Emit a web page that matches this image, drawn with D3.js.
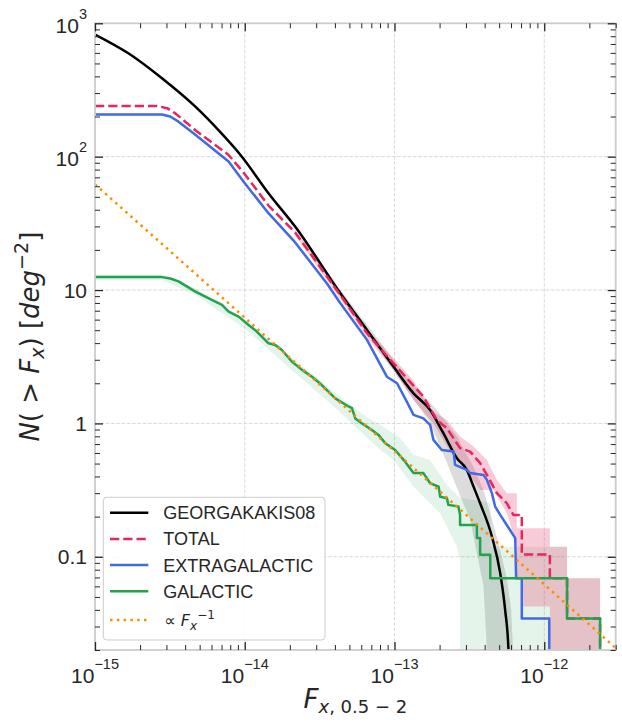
<!DOCTYPE html>
<html>
<head>
<meta charset="utf-8">
<script src="https://cdn.jsdelivr.net/npm/d3@7"></script>
<style>
  html, body { margin: 0; padding: 0; background: #fff; }
  svg { display: block; }
  text { white-space: pre; }
</style>
</head>
<body>
<div id="chart"></div>
<script>
// ---- data (flux in erg/s/cm2, counts in deg^-2) ----
var geoF = [1.00e-15, 1.67e-15, 2.80e-15, 4.68e-15, 6.68e-15, 9.57e-15, 1.44e-14, 2.17e-14, 4.35e-14, 6.55e-14, 9.84e-14, 1.34e-13, 1.73e-13, 2.12e-13, 2.61e-13, 3.04e-13, 3.37e-13, 3.73e-13, 4.47e-13, 5.08e-13, 5.48e-13, 5.77e-13, 5.85e-13];
var geoN = [824, 596, 387, 237, 158, 100, 53.2, 29.9, 9.46, 5.02, 2.67, 1.68, 1.26, 0.845, 0.548, 0.448, 0.336, 0.252, 0.142, 0.0754, 0.040, 0.020, 0.012];

var totF = [1.00e-15, 2.59e-15, 3.03e-15, 3.44e-15, 4.01e-15, 4.68e-15, 7.80e-15, 9.89e-15, 1.44e-14, 2.17e-14, 4.35e-14, 6.55e-14, 9.84e-14, 1.56e-13, 1.92e-13, 2.24e-13, 2.74e-13, 3.20e-13, 3.73e-13, 4.14e-13, 4.83e-13, 5.62e-13, 6.22e-13, 7.08e-13, 7.08e-13, 1.09e-12, 1.09e-12, 1.42e-12, 1.42e-12, 2.36e-12, 2.36e-12];
var totN = [240, 240, 231, 211, 183, 158, 103, 75.2, 43.0, 27.0, 9.18, 4.74, 2.82, 1.59, 1.06, 0.92, 0.652, 0.615, 0.504, 0.411, 0.30, 0.252, 0.206, 0.206, 0.104, 0.104, 0.069, 0.069, 0.0345, 0.0345, 0.01];

var extF = [1.00e-15, 2.80e-15, 3.18e-15, 3.61e-15, 4.68e-15, 7.80e-15, 9.89e-15, 1.44e-14, 2.12e-14, 3.54e-14, 4.35e-14, 6.55e-14, 8.89e-14, 1.04e-13, 1.21e-13, 1.34e-13, 1.56e-13, 1.73e-13, 1.82e-13, 2.07e-13, 2.48e-13, 2.54e-13, 3.04e-13, 3.20e-13, 3.93e-13, 4.14e-13, 4.47e-13, 4.70e-13, 5.08e-13, 5.62e-13, 6.40e-13, 6.49e-13, 7.08e-13, 7.08e-13, 1.08e-12, 1.08e-12];
var extN = [207, 207, 200, 183, 146, 91.9, 64.3, 37.7, 23.5, 11.2, 7.96, 4.23, 2.24, 2.0, 1.45, 1.16, 1.09, 0.975, 0.752, 0.632, 0.615, 0.489, 0.448, 0.424, 0.411, 0.377, 0.30, 0.238, 0.206, 0.173, 0.138, 0.069, 0.069, 0.0345, 0.0345, 0.01];

var galF = [1e-15, 2.8e-15, 3.18e-15, 3.61e-15, 4.68e-15, 5.45e-15, 7.05e-15, 7.80e-15, 9.10e-15, 1.06e-14, 1.17e-14, 1.30e-14, 1.44e-14, 1.60e-14, 1.77e-14, 2.06e-14, 2.41e-14, 2.81e-14, 3.27e-14, 3.62e-14, 4.02e-14, 4.93e-14, 5.20e-14, 5.47e-14, 6.06e-14, 7.06e-14, 7.81e-14, 8.67e-14, 1.01e-13, 1.15e-13, 1.34e-13, 1.56e-13, 1.73e-13, 1.97e-13, 2.02e-13, 2.24e-13, 2.29e-13, 2.67e-13, 2.74e-13, 2.74e-13, 3.55e-13, 3.55e-13, 3.73e-13, 3.73e-13, 4.36e-13, 4.36e-13, 1.42e-12, 1.42e-12, 2.36e-12, 2.36e-12];
var galN = [12.5, 12.5, 12.2, 11.6, 9.72, 8.91, 7.73, 6.89, 6.32, 5.47, 5.02, 4.48, 3.99, 3.87, 3.55, 2.91, 2.52, 2.24, 1.94, 1.73, 1.54, 1.34, 1.30, 1.09, 1.0, 0.893, 0.820, 0.711, 0.632, 0.533, 0.424, 0.424, 0.356, 0.336, 0.282, 0.275, 0.245, 0.238, 0.206, 0.173, 0.173, 0.138, 0.138, 0.1035, 0.1035, 0.069, 0.069, 0.0345, 0.0345, 0.01];

var slopeF = [1e-15, 3e-12];
var slopeN = [62, 0.0207];

// uncertainty bands: upper and lower edges
var geoHiF = [2.17e-14, 4.35e-14, 8.04e-14, 1.27e-13, 1.92e-13, 2.61e-13, 3.37e-13, 3.93e-13, 4.36e-13, 5.08e-13, 5.65e-13, 6.01e-13, 6.19e-13, 6.25e-13];
var geoHiN = [30.8, 10.0, 4.08, 2.05, 1.26, 0.796, 0.474, 0.317, 0.212, 0.113, 0.067, 0.040, 0.020, 0.012];
var geoLoF = [2.17e-14, 4.35e-14, 8.04e-14, 1.27e-13, 1.73e-13, 2.24e-13, 2.76e-13, 3.20e-13, 3.55e-13, 3.93e-13, 4.14e-13, 4.14e-13];
var geoLoN = [29.0, 8.87, 3.44, 1.64, 1.01, 0.504, 0.282, 0.190, 0.106, 0.060, 0.020, 0.012];

var totHiF = [2.17e-14, 4.35e-14, 6.55e-14, 9.84e-14, 1.34e-13, 1.73e-13, 2.24e-13, 2.74e-13, 3.37e-13, 4.14e-13, 4.83e-13, 5.62e-13, 6.56e-13, 6.56e-13, 1.09e-12, 1.09e-12, 1.42e-12, 1.42e-12, 2.36e-12, 2.36e-12];
var totHiN = [28.4, 9.84, 5.11, 3.10, 2.10, 1.26, 1.06, 0.796, 0.670, 0.532, 0.377, 0.30, 0.30, 0.164, 0.164, 0.119, 0.119, 0.069, 0.069, 0.01];
var totLoF = [2.17e-14, 4.35e-14, 6.55e-14, 9.84e-14, 1.34e-13, 1.82e-13, 2.24e-13, 2.89e-13, 3.73e-13, 4.58e-13, 5.62e-13, 6.56e-13, 6.56e-13, 7.23e-13, 7.23e-13, 1.09e-12, 1.09e-12];
var totLoN = [25.7, 8.57, 4.38, 2.52, 1.50, 1.0, 0.670, 0.474, 0.317, 0.317, 0.212, 0.123, 0.069, 0.069, 0.0424, 0.0424, 0.01];

var galHiF = [1e-15, 2.8e-15, 4.68e-15, 9.89e-15, 2.17e-14, 4.02e-14, 6.06e-14, 8.04e-14, 1.09e-13, 1.34e-13, 1.73e-13, 2.24e-13, 2.74e-13, 4.36e-13, 4.36e-13, 1.42e-12, 1.42e-12, 2.36e-12, 2.36e-12];
var galHiN = [13.1, 13.1, 10.3, 6.07, 2.99, 1.69, 1.18, 0.975, 0.778, 0.581, 0.532, 0.346, 0.277, 0.254, 0.119, 0.119, 0.069, 0.069, 0.01];
var galLoF = [1e-15, 2.8e-15, 4.68e-15, 9.89e-15, 2.17e-14, 4.02e-14, 6.06e-14, 8.04e-14, 9.84e-14, 1.34e-13, 1.73e-13, 2.02e-13, 2.24e-13, 2.61e-13, 2.74e-13, 2.74e-13];
var galLoN = [11.9, 11.9, 9.18, 5.20, 2.39, 1.31, 0.849, 0.632, 0.533, 0.336, 0.252, 0.212, 0.168, 0.119, 0.0946, 0.01];

// ticks and labels
var fluxTicks = [1e-15, 1e-14, 1e-13, 1e-12];
var fluxTickLabels = [["10", "\u221215"], ["10", "\u221214"], ["10", "\u221213"], ["10", "\u221212"]];
var countTicks = [1000, 100, 10, 1, 0.1];
var countTickLabels = [["10", "3"], ["10", "2"], ["10", ""], ["1", ""], ["0.1", ""]];
var legendLabels = ["GEORGAKAKIS08", "TOTAL", "EXTRAGALACTIC", "GALACTIC"];

// ---- layout ----
var svgWidth = 622;
var svgHeight = 722;
var margin = {top: 23.3, right: 6.3, bottom: 72, left: 95};
var width = svgWidth - margin.left - margin.right;
var height = svgHeight - margin.top - margin.bottom;

var svg = d3.select("#chart").append("svg")
  .attr("width", svgWidth)
  .attr("height", svgHeight);

var chartGroup = svg.append("g")
  .attr("transform", `translate(${margin.left}, ${margin.top})`);

var x = d3.scaleLog().domain([1e-15, 3e-12]).range([0, width]);
var y = d3.scaleLog().domain([0.02, 1000]).range([height, 0]);

var textColor = "#262626";
var labelFont = "'Liberation Sans', Arial, sans-serif";
var mathFont = "'DejaVu Sans', sans-serif";

chartGroup.append("clipPath").attr("id", "plotClip")
  .append("rect").attr("width", width).attr("height", height);

// grid
chartGroup.append("g").selectAll("line")
  .data(fluxTicks.slice(1))
  .enter().append("line")
  .attr("x1", d => x(d)).attr("x2", d => x(d))
  .attr("y1", 0).attr("y2", height)
  .attr("stroke", "#d9d9d9").attr("stroke-width", 1).attr("stroke-dasharray", "3.7,1.6");
chartGroup.append("g").selectAll("line")
  .data(countTicks.slice(1))
  .enter().append("line")
  .attr("y1", d => y(d)).attr("y2", d => y(d))
  .attr("x1", 0).attr("x2", width)
  .attr("stroke", "#d9d9d9").attr("stroke-width", 1).attr("stroke-dasharray", "3.7,1.6");

var line = d3.line().x(d => x(d[0])).y(d => y(d[1]));
var smoothLine = d3.line().x(d => x(d[0])).y(d => y(d[1])).curve(d3.curveMonotoneX);

function bandPath(hiF, hiN, loF, loN) {
  var pts = d3.zip(hiF, hiN).concat(d3.zip(loF, loN).reverse());
  return line(pts) + "Z";
}

var plot = chartGroup.append("g").attr("clip-path", "url(#plotClip)");

// bands
plot.append("path").attr("d", bandPath(geoHiF, geoHiN, geoLoF, geoLoN))
  .attr("fill", "#8c8c8c").attr("fill-opacity", 0.3);
plot.append("path").attr("d", bandPath(galHiF, galHiN, galLoF, galLoN))
  .attr("fill", "#20a550").attr("fill-opacity", 0.12);
plot.append("path").attr("d", bandPath(totHiF, totHiN, totLoF, totLoN))
  .attr("fill", "#e8265e").attr("fill-opacity", 0.24);

// lines
var series = [
  {name: legendLabels[0], f: geoF, n: geoN, color: "#000000", dash: null, gen: smoothLine},
  {name: legendLabels[1], f: totF, n: totN, color: "#e8265e", dash: "9.25,4", gen: line},
  {name: legendLabels[2], f: extF, n: extN, color: "#4169e1", dash: null, gen: line},
  {name: legendLabels[3], f: galF, n: galN, color: "#22a24f", dash: null, gen: line}
];

series.forEach(function(s) {
  plot.append("path")
    .attr("d", s.gen(d3.zip(s.f, s.n)))
    .attr("fill", "none")
    .attr("stroke", s.color)
    .attr("stroke-width", 2.5)
    .attr("stroke-linejoin", "round")
    .attr("stroke-dasharray", s.dash);
});

plot.append("path")
  .attr("d", line(d3.zip(slopeF, slopeN)))
  .attr("fill", "none")
  .attr("stroke", "#ff8c00")
  .attr("stroke-width", 2.5)
  .attr("stroke-dasharray", "2.5,4.3");

// spines
chartGroup.append("rect")
  .attr("width", width).attr("height", height)
  .attr("fill", "none").attr("stroke", "#cccccc").attr("stroke-width", 1.8);

// ticks (inward on all four sides)
var isMajor = v => Math.abs(Math.log10(v) - Math.round(Math.log10(v))) < 1e-6;
var minorX = x.ticks().filter(v => !isMajor(v));
var minorY = y.ticks().filter(v => !isMajor(v));

function tickGroup(axis, vals, size, w, tr) {
  var g = chartGroup.append("g")
    .attr("transform", tr)
    .call(axis.tickValues(vals).tickSize(-size).tickFormat(""));
  g.select(".domain").remove();
  g.selectAll(".tick line").attr("stroke", textColor).attr("stroke-width", w);
}
[[fluxTicks, 8, 1.3], [minorX, 5, 1]].forEach(function(t) {
  tickGroup(d3.axisBottom(x), t[0], t[1], t[2], `translate(0, ${height})`);
  tickGroup(d3.axisTop(x), t[0], t[1], t[2], "translate(0, 0)");
});
[[countTicks, 8, 1.3], [minorY, 5, 1]].forEach(function(t) {
  tickGroup(d3.axisLeft(y), t[0], t[1], t[2], "translate(0, 0)");
  tickGroup(d3.axisRight(y), t[0], t[1], t[2], `translate(${width}, 0)`);
});

// rich text helper (sub/superscripts via tspans)
function richText(sel, parts) {
  var shift = 0;
  parts.forEach(function(p) {
    var t = sel.append("tspan").text(p.t);
    var s = p.shift || 0;
    if (s !== shift) { t.attr("dy", s - shift); shift = s; }
    if (p.dx) t.attr("dx", p.dx);
    if (p.size) t.attr("font-size", p.size);
    if (p.italic) t.attr("font-style", "italic");
  });
}

// x tick labels
fluxTicks.forEach(function(v, i) {
  var t = chartGroup.append("text")
    .attr("x", x(v)).attr("y", height + 33.3)
    .attr("text-anchor", "middle")
    .attr("font-family", labelFont).attr("font-size", 21).attr("fill", textColor);
  richText(t, [{t: fluxTickLabels[i][0]}, {t: fluxTickLabels[i][1], shift: -14, size: 14.5}]);
});

// y tick labels
countTicks.forEach(function(v, i) {
  var lab = countTickLabels[i];
  var t = chartGroup.append("text")
    .attr("x", -8).attr("y", y(v) + (lab[1] ? 9.5 : 7.6))
    .attr("text-anchor", "end")
    .attr("font-family", labelFont).attr("font-size", 21).attr("fill", textColor);
  var parts = [{t: lab[0]}];
  if (lab[1]) parts.push({t: lab[1], shift: -14, size: 14.5});
  richText(t, parts);
});

// axis labels
var yLabel = svg.append("text")
  .attr("transform", `translate(38.5, ${margin.top + height / 2}) rotate(-90)`)
  .attr("text-anchor", "middle")
  .attr("font-family", mathFont).attr("font-size", 26).attr("fill", textColor);
richText(yLabel, [
  {t: "N", italic: true}, {t: "( > "}, {t: "F", italic: true},
  {t: "x", italic: true, shift: 5, size: 19}, {t: ") ["},
  {t: "deg", italic: true}, {t: "\u22122", shift: -11, size: 19}, {t: "]"}
]);

var xLabel = svg.append("text")
  .attr("x", margin.left + width / 2).attr("y", 708)
  .attr("text-anchor", "middle")
  .attr("font-family", mathFont).attr("font-size", 26).attr("fill", textColor);
richText(xLabel, [
  {t: "F", italic: true}, {t: "x", italic: true, shift: 5, size: 18},
  {t: ", 0.5 \u2212 2", shift: 5, size: 18}
]);

// legend
var legend = svg.append("g").attr("transform", "translate(103.3, 497.3)");
legend.append("rect")
  .attr("width", 221.7).attr("height", 142.7).attr("rx", 3.5)
  .attr("fill", "#ffffff").attr("fill-opacity", 0.85)
  .attr("stroke", "#cccccc").attr("stroke-width", 1);

var legendItems = series.map(s => ({name: s.name, color: s.color, dash: s.dash, width: 2.5}))
  .concat([{name: null, color: "#ff8c00", dash: "2.5,4.3", width: 2.5}]);

legendItems.forEach(function(d, i) {
  var rowY = 15.4 + i * 26.2 + (i === 4 ? 2.5 : 0);
  legend.append("line")
    .attr("x1", 6.7).attr("x2", 45)
    .attr("y1", rowY).attr("y2", rowY)
    .attr("stroke", d.color).attr("stroke-width", d.width)
    .attr("stroke-dasharray", d.dash);
  if (d.name) {
    legend.append("text")
      .attr("x", 60).attr("y", rowY + 6.6)
      .attr("font-family", labelFont).attr("font-size", 18).attr("fill", textColor)
      .text(d.name);
  } else {
    var t = legend.append("text")
      .attr("x", 61).attr("y", rowY + 6)
      .attr("font-family", mathFont).attr("font-size", 16).attr("fill", textColor);
    richText(t, [
      {t: "\u221d "}, {t: "F", italic: true},
      {t: "x", italic: true, shift: 4, size: 12},
      {t: "\u22121", shift: -7, size: 12}
    ]);
  }
});
</script>
</body>
</html>
